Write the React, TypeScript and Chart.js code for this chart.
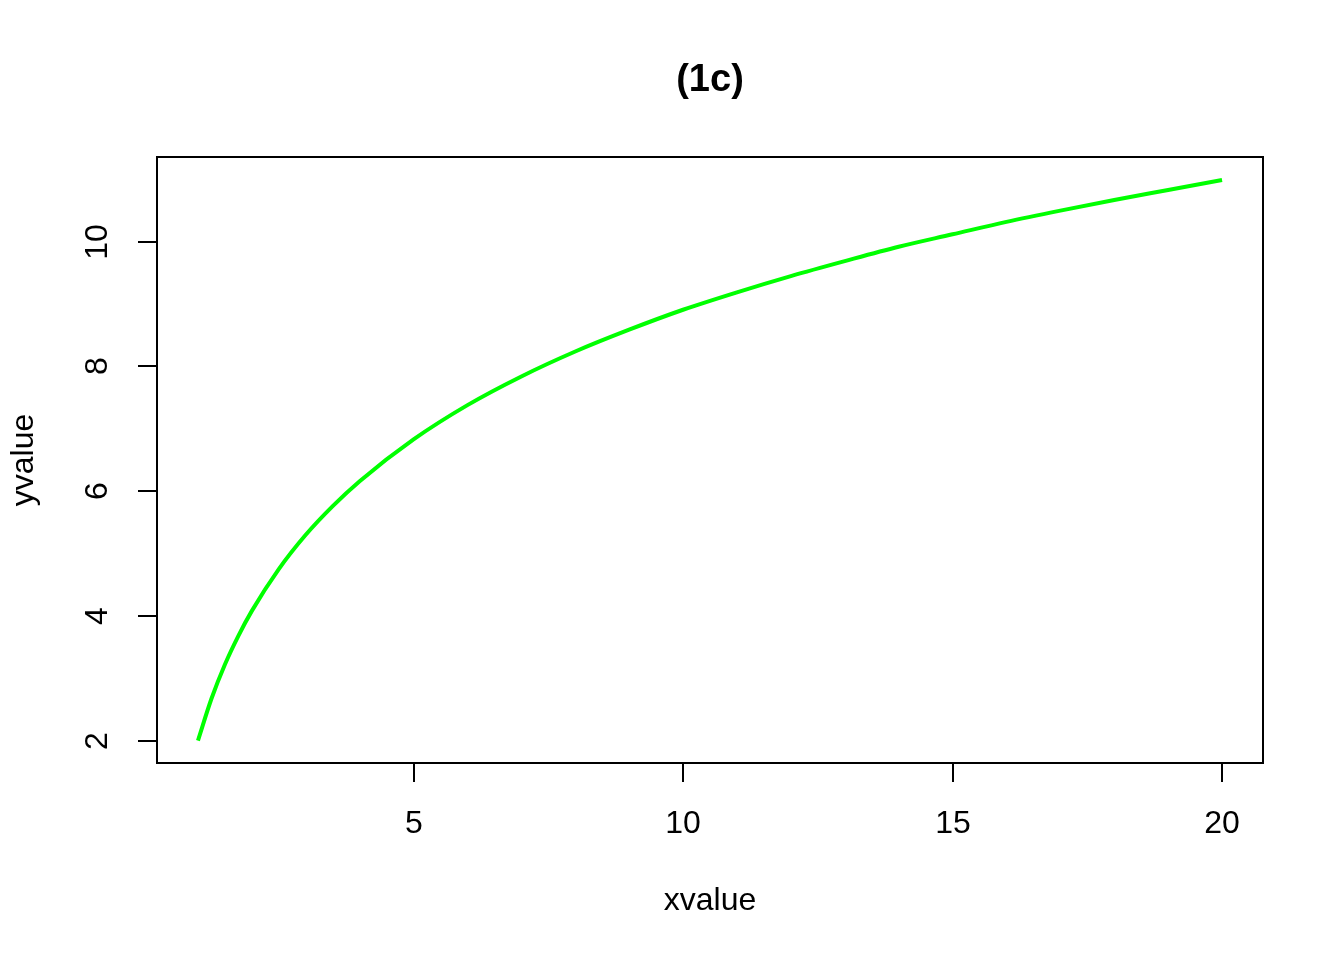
import React, { useEffect, useRef } from "react";
import { Chart, registerables } from "chart.js";

Chart.register(...registerables);

const TITLE = "(1c)";
const X_LABEL = "xvalue";
const Y_LABEL = "yvalue";
const xValues = [1, 1.25, 1.5, 1.75, 2, 2.5, 3, 3.5, 4, 5, 6, 7, 8, 9, 10, 11, 12, 13, 14, 15, 16, 17, 18, 19, 20];
const yValues = [2.0, 2.67, 3.22, 3.68, 4.08, 4.75, 5.3, 5.76, 6.16, 6.83, 7.38, 7.84, 8.24, 8.59, 8.91, 9.19, 9.45, 9.69, 9.92, 10.12, 10.32, 10.5, 10.67, 10.83, 10.99];
const xTicks = [5, 10, 15, 20];
const yTicks = [2, 4, 6, 8, 10];

const FONT = "'Liberation Sans', Arial, Helvetica, sans-serif";

const axesPlugin = {
  id: "rAxes",
  afterDraw(chart: any) {
    const ctx = chart.ctx;
    const { left, right, top, bottom } = chart.chartArea;
    const xs = chart.scales.x;
    const ys = chart.scales.y;
    ctx.save();
    ctx.strokeStyle = "#000";
    ctx.fillStyle = "#000";
    ctx.lineWidth = 2;
    ctx.strokeRect(left, top, right - left, bottom - top);
    const tick = 19;
    ctx.font = `32px ${FONT}`;
    ctx.textAlign = "center";
    ctx.textBaseline = "middle";
    for (const t of xTicks) {
      const px = Math.round(xs.getPixelForValue(t));
      ctx.beginPath();
      ctx.moveTo(px, bottom);
      ctx.lineTo(px, bottom + tick);
      ctx.stroke();
      ctx.fillText(String(t), px, bottom + 61);
    }
    for (const t of yTicks) {
      const py = Math.round(ys.getPixelForValue(t));
      ctx.beginPath();
      ctx.moveTo(left, py);
      ctx.lineTo(left - tick, py);
      ctx.stroke();
      ctx.save();
      ctx.translate(left - 59, py);
      ctx.rotate(-Math.PI / 2);
      ctx.fillText(String(t), 0, 0);
      ctx.restore();
    }
    ctx.fillText(X_LABEL, (left + right) / 2, bottom + 138);
    ctx.save();
    ctx.translate(24, (top + bottom) / 2);
    ctx.rotate(-Math.PI / 2);
    ctx.fillText(Y_LABEL, 0, 0);
    ctx.restore();
    ctx.font = `bold 38px ${FONT}`;
    ctx.fillText(TITLE, (left + right) / 2, 81);
    ctx.restore();
  },
};

export default function App() {
  const ref = useRef<HTMLCanvasElement>(null);
  useEffect(() => {
    if (!ref.current) return;
    const chart = new Chart(ref.current, {
      type: "line",
      data: {
        datasets: [
          {
            data: xValues.map((x, i) => ({ x, y: yValues[i] })),
            borderColor: "#00FF00",
            borderWidth: 4,
            pointRadius: 0,
            tension: 0.4,
            cubicInterpolationMode: "monotone",
            fill: false,
          },
        ],
      },
      options: {
        animation: false,
        responsive: false,
        devicePixelRatio: 1,
        layout: { padding: { left: 157, top: 157, right: 81, bottom: 197 } },
        plugins: { legend: { display: false }, tooltip: { enabled: false }, title: { display: false } },
        scales: {
          x: { type: "linear", min: 0.24, max: 20.76, display: false },
          y: { type: "linear", min: 1.64, max: 11.36, display: false },
        },
      },
      plugins: [axesPlugin],
    } as any);
    return () => chart.destroy();
  }, []);
  return (
    <div style={{ position: "fixed", left: 0, top: 0, width: 1344, height: 960, background: "#fff" }}>
      <canvas ref={ref} width={1344} height={960} />
    </div>
  );
}
